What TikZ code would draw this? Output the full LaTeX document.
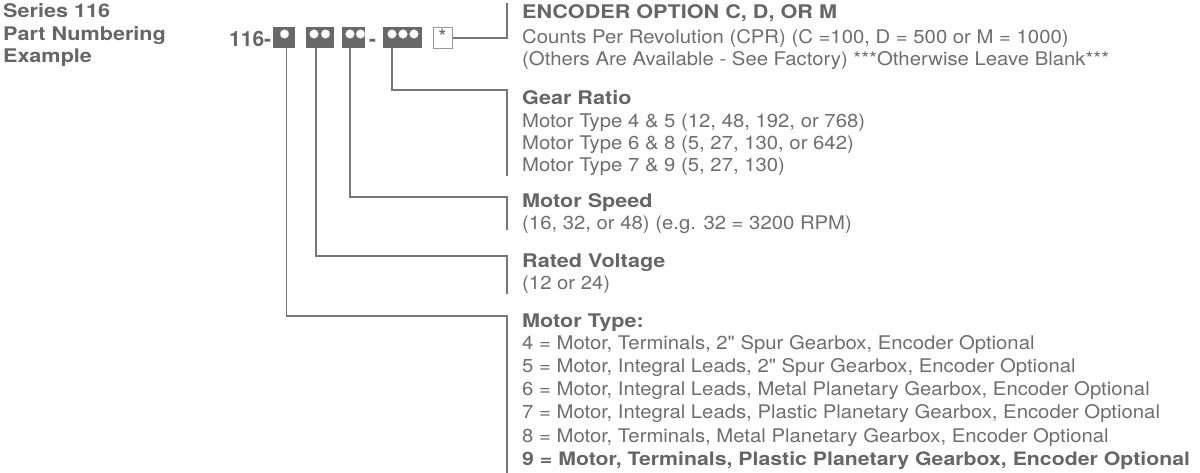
\documentclass[tikz,border=0pt]{standalone}
\usepackage{fontspec}
\setmainfont{TeX Gyre Heros}
\newfontfamily\regf[FakeStretch=1.08]{TeX Gyre Heros}
\newfontfamily\boldf[FakeStretch=1.15]{TeX Gyre Heros}
\definecolor{txt}{HTML}{6E6E6E}
\definecolor{head}{HTML}{666666}
\definecolor{boxc}{HTML}{686868}
\definecolor{linec}{HTML}{777777}
\begin{document}
\begin{tikzpicture}[x=1pt,y=-1pt,
  reg/.style={anchor=base west,inner sep=0pt,text=txt,font=\regf\fontsize{18.8}{22}\selectfont},
  hd/.style={anchor=base west,inner sep=0pt,text=head,font=\boldf\bfseries\fontsize{18.8}{22}\selectfont},
  digitbox/.style={draw=none,fill=boxc,inner sep=0pt,minimum height=21pt,anchor=north west},
  dot/.style={circle,fill=white,draw=gray!60,line width=0.4pt,inner sep=0pt,minimum size=9pt},
  conn/.style={draw=linec,line width=1.4pt}]
\useasboundingbox (0,0) rectangle (1200,473);
% title
\node[hd] (t1) at (3,18) {Series 116};
\node[hd] (t2) at (3,41) {Part Numbering};
\node[hd] (t3) at (3,63) {Example};
% part number
\node[anchor=base west,inner sep=0pt,text=head,font=\bfseries\fontsize{21}{24}\selectfont] (pn) at (229,47) {116-};
\node[digitbox,minimum width=22pt] (b1) at (273,27) {};
\node[digitbox,minimum width=28pt] (b2) at (306,27) {};
\node[digitbox,minimum width=23pt] (b3) at (342,27) {};
\node[anchor=base west,inner sep=0pt,text=head,font=\bfseries\fontsize{21}{24}\selectfont] (dash) at (369,47) {-};
\node[digitbox,minimum width=39pt] (b4) at (383,27) {};
\node[draw=gray!80,fill=white,line width=0.8pt,inner sep=0pt,minimum width=19pt,minimum height=21pt,anchor=north west] (st) at (433,27) {};
\node[anchor=base,inner sep=0pt,text=head,font=\fontsize{21}{24}\selectfont] (star) at (442.5,45) {*};
\node[dot] (c1a) at (284.5,34) {};
\node[dot] (c2a) at (314,34) {};
\node[dot] (c2b) at (325.5,34) {};
\node[dot] (c3a) at (350,34) {};
\node[dot] (c3b) at (360.5,34) {};
\node[dot] (c4a) at (392,34) {};
\node[dot] (c4b) at (403,34) {};
\node[dot] (c4c) at (414,34) {};
% encoder
\node[hd] (e0) at (522,19) {ENCODER OPTION C, D, OR M};
\node[reg] (e1) at (522,44) {Counts Per Revolution (CPR) (C =100, D = 500 or M = 1000)};
\node[reg] (e2) at (522,66) {(Others Are Available - See Factory) ***Otherwise Leave Blank***};
% gear ratio
\node[hd] (g0) at (522,105) {Gear Ratio};
\node[reg] (g1) at (522,128) {Motor Type 4 \& 5 (12, 48, 192, or 768)};
\node[reg] (g2) at (522,150) {Motor Type 6 \& 8 (5, 27, 130, or 642)};
\node[reg] (g3) at (522,172) {Motor Type 7 \& 9 (5, 27, 130)};
% motor speed
\node[hd] (s0) at (522,208) {Motor Speed};
\node[reg] (s1) at (522,230) {(16, 32, or 48) (e.g. 32 = 3200 RPM)};
% rated voltage
\node[hd] (v0) at (522,268) {Rated Voltage};
\node[reg] (v1) at (522,290) {(12 or 24)};
% motor type
\node[hd] (m0) at (522,327) {Motor Type:};
\node[reg] (m1) at (522,349) {4 = Motor, Terminals, 2" Spur Gearbox, Encoder Optional};
\node[reg] (m2) at (522,372) {5 = Motor, Integral Leads, 2" Spur Gearbox, Encoder Optional};
\node[reg] (m3) at (522,395) {6 = Motor, Integral Leads, Metal Planetary Gearbox, Encoder Optional};
\node[reg] (m4) at (522,418) {7 = Motor, Integral Leads, Plastic Planetary Gearbox, Encoder Optional};
\node[reg] (m5) at (522,442) {8 = Motor, Terminals, Metal Planetary Gearbox, Encoder Optional};
\node[hd,font=\boldf\bfseries\fontsize{18.5}{22}\selectfont] (m6) at (522,465) {9 = Motor, Terminals, Plastic Planetary Gearbox, Encoder Optional};
% connector coordinates
\coordinate (etop) at (507,3);
\coordinate (gc) at (507,90);
\coordinate (ge) at (507,176);
\coordinate (sc) at (507,197);
\coordinate (se) at (507,230);
\coordinate (vc) at (507,256);
\coordinate (ve) at (507,294);
\coordinate (mc) at (507,316);
\coordinate (me) at (507,473);
% connectors
\draw[conn] (st.east) -| (etop);
\draw[conn] (b4.south -| c4a) |- (gc) -- (ge);
\draw[conn] (b3.south -| c3a) |- (sc) -- (se);
\draw[conn] ([xshift=2pt]b2.south -| c2a) |- (vc) -- (ve);
\draw[conn] ([xshift=2pt]b1.south -| c1a) |- (mc) -- (me);
\end{tikzpicture}
\end{document}
